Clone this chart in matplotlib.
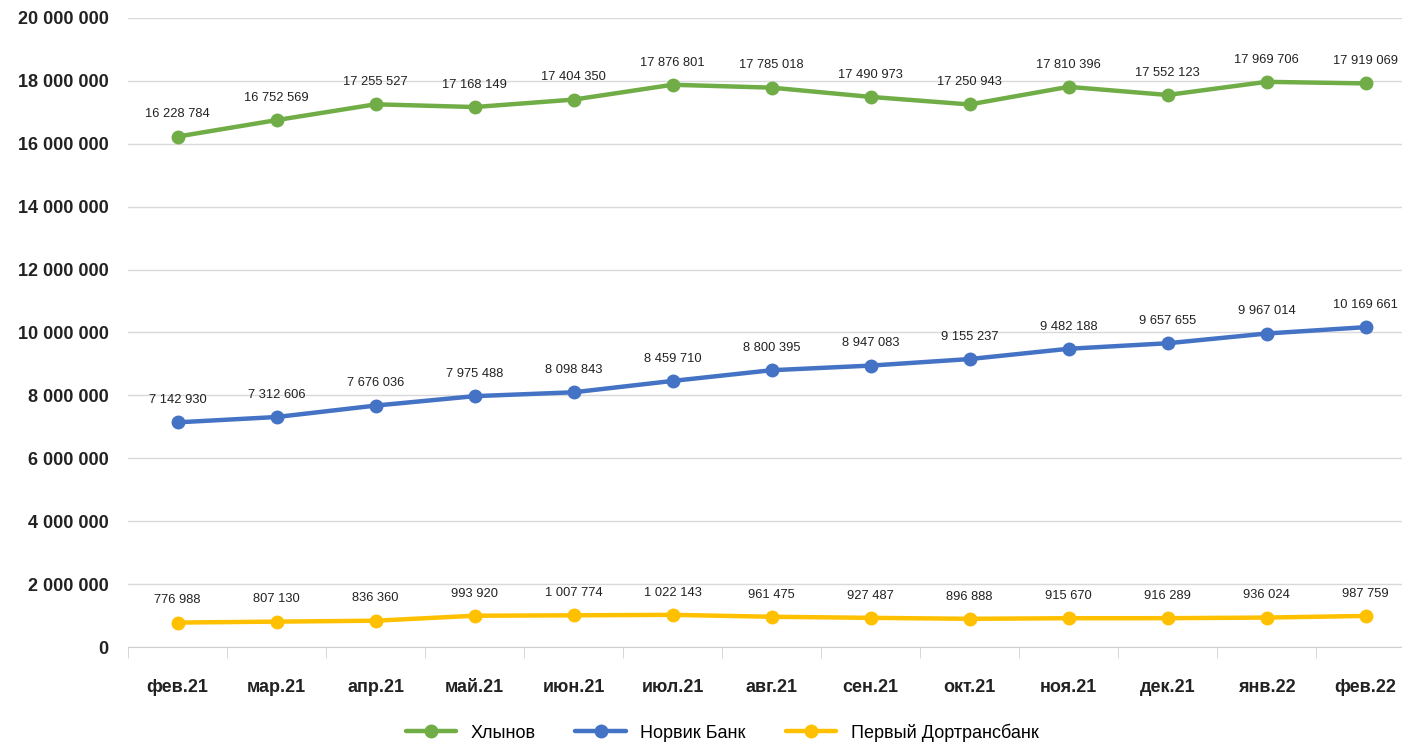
import matplotlib.pyplot as plt

months = ["фев.21", "мар.21", "апр.21", "май.21", "июн.21", "июл.21", "авг.21",
          "сен.21", "окт.21", "ноя.21", "дек.21", "янв.22", "фев.22"]
khlynov = [16228784, 16752569, 17255527, 17168149, 17404350, 17876801, 17785018,
           17490973, 17250943, 17810396, 17552123, 17969706, 17919069]
norvik = [7142930, 7312606, 7676036, 7975488, 8098843, 8459710, 8800395,
          8947083, 9155237, 9482188, 9657655, 9967014, 10169661]
dortrans = [776988, 807130, 836360, 993920, 1007774, 1022143, 961475,
            927487, 896888, 915670, 916289, 936024, 987759]

series = [("Хлынов", khlynov, "#70AD47"),
          ("Норвик Банк", norvik, "#4472C4"),
          ("Первый Дортрансбанк", dortrans, "#FFC000")]

plt.rcParams['font.family'] = ['Liberation Sans', 'DejaVu Sans']


def fmt(v):
    return "{:,}".format(int(v)).replace(",", " ")


fig = plt.figure(figsize=(14.02, 7.46), dpi=100)
ax = fig.add_axes([0.0913, 0.1327, 0.918, 0.8432])

x = list(range(len(months)))
for name, vals, color in series:
    ax.plot(x, vals, color=color, lw=3.2, marker="o", markersize=9, label=name,
            solid_capstyle="round")
    for xi, v in zip(x, vals):
        ax.annotate(fmt(v), (xi, v), xytext=(0, 16), textcoords="offset points",
                    ha="center", va="center", fontsize=9.3, color="#222222")

ax.set_xlim(-0.5, len(months) - 0.5)
ax.set_ylim(0, 20000000)
ax.set_yticks(range(0, 20000001, 2000000))
ax.set_yticklabels([fmt(v) for v in range(0, 20000001, 2000000)],
                   fontsize=13, fontweight="bold", color="#222222")
ax.set_xticks(x)
ax.set_xticklabels(months, fontsize=13, fontweight="bold", color="#222222")
ax.set_xticks([i - 0.5 for i in range(len(months) + 1)], minor=True)
ax.tick_params(axis="x", which="major", length=0, pad=23)
ax.tick_params(axis="x", which="minor", length=8, color="#D0D0D0")
ax.tick_params(axis="y", length=0, pad=14)

ax.grid(axis="y", color="#D9D9D9", lw=1)
ax.set_axisbelow(True)
for s in ["top", "right", "left"]:
    ax.spines[s].set_visible(False)
ax.spines["bottom"].set_color("#D0D0D0")

fig.legend(loc="center", bbox_to_anchor=(0.515, 0.018), ncol=3, frameon=False,
           fontsize=13, handlelength=2.8, columnspacing=2.2)

fig.savefig("out.png", dpi=100)
